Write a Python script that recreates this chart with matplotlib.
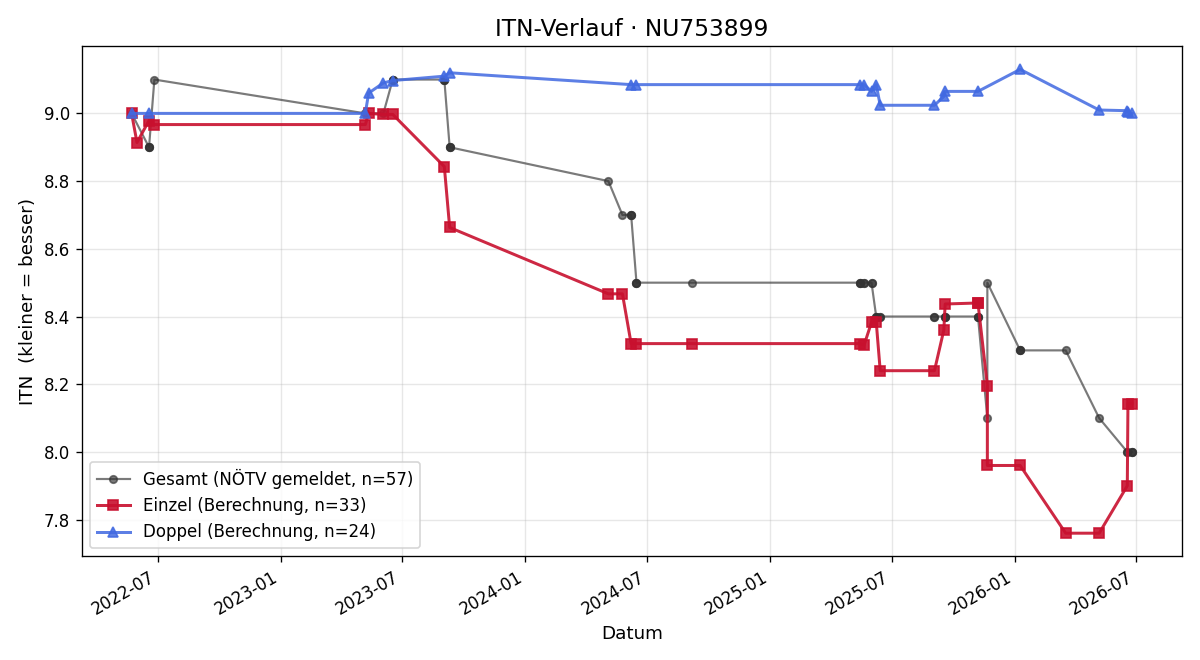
import pandas as pd
import matplotlib
matplotlib.use("Agg")
import matplotlib.pyplot as plt
import matplotlib.dates as mdates

# Gesamt (NÖTV gemeldet)
gesamt_dates = [
    "2022-05-23", "2022-06-18", "2022-06-18", "2022-06-18", "2022-06-26",
    "2023-05-07", "2023-06-03", "2023-06-17", "2023-06-17", "2023-06-17",
    "2023-09-02", "2023-09-02", "2023-09-02", "2023-09-10", "2023-09-10", "2023-09-10",
    "2024-05-04", "2024-05-25", "2024-06-07", "2024-06-07", "2024-06-07",
    "2024-06-15", "2024-06-15", "2024-06-15", "2024-09-06",
    "2025-05-15", "2025-05-15", "2025-05-15", "2025-05-21", "2025-05-21",
    "2025-06-01", "2025-06-01", "2025-06-08", "2025-06-08", "2025-06-08",
    "2025-06-14", "2025-06-14", "2025-09-03", "2025-09-03",
    "2025-09-19", "2025-09-19", "2025-09-19", "2025-11-07", "2025-11-07", "2025-11-07",
    "2025-11-21", "2025-11-21", "2026-01-09", "2026-01-09", "2026-01-09",
    "2026-03-18", "2026-05-07", "2026-06-18", "2026-06-18",
    "2026-06-25", "2026-06-25", "2026-06-25",
]
gesamt_vals = [
    9.0, 8.9, 8.9, 8.9, 9.1,
    9.0, 9.0, 9.1, 9.1, 9.1,
    9.1, 9.1, 9.1, 8.9, 8.9, 8.9,
    8.8, 8.7, 8.7, 8.7, 8.7,
    8.5, 8.5, 8.5, 8.5,
    8.5, 8.5, 8.5, 8.5, 8.5,
    8.5, 8.5, 8.4, 8.4, 8.4,
    8.4, 8.4, 8.4, 8.4,
    8.4, 8.4, 8.4, 8.4, 8.4, 8.4,
    8.1, 8.5, 8.3, 8.3, 8.3,
    8.3, 8.1, 8.0, 8.0,
    8.0, 8.0, 8.0,
]

# Einzel (Berechnung)
einzel_dates = [
    "2022-05-23", "2022-05-31", "2022-06-18", "2022-06-26",
    "2023-05-07", "2023-05-12", "2023-06-03", "2023-06-17",
    "2023-09-02", "2023-09-10", "2024-05-04", "2024-05-25",
    "2024-06-07", "2024-06-15", "2024-09-06", "2025-05-15",
    "2025-05-21", "2025-06-01", "2025-06-08", "2025-06-14",
    "2025-09-03", "2025-09-17", "2025-09-19", "2025-11-07", "2025-11-07",
    "2025-11-21", "2025-11-21", "2026-01-09", "2026-03-18",
    "2026-05-07", "2026-06-18", "2026-06-19", "2026-06-25",
]
einzel_vals = [
    9.0, 8.914, 8.979, 8.967,
    8.967, 9.0, 8.997, 8.997,
    8.843, 8.663, 8.467, 8.467,
    8.32, 8.32, 8.32, 8.32,
    8.316, 8.383, 8.385, 8.24,
    8.24, 8.36, 8.437, 8.44, 8.44,
    8.196, 7.96, 7.96, 7.76,
    7.76, 7.90, 8.143, 8.143,
]

# Doppel (Berechnung)
doppel_dates = [
    "2022-05-23", "2022-06-18", "2023-05-07", "2023-05-12",
    "2023-06-03", "2023-06-17", "2023-09-02", "2023-09-10",
    "2024-06-07", "2024-06-15", "2025-05-15", "2025-05-21",
    "2025-06-01", "2025-06-08", "2025-06-14", "2025-09-03",
    "2025-09-17", "2025-09-19", "2025-11-07", "2026-01-09",
    "2026-05-07", "2026-06-18", "2026-06-19", "2026-06-25",
]
doppel_vals = [
    9.0, 9.0, 9.0, 9.06,
    9.09, 9.097, 9.11, 9.12,
    9.085, 9.085, 9.085, 9.085,
    9.065, 9.085, 9.024, 9.024,
    9.05, 9.065, 9.065, 9.13,
    9.01, 9.008, 9.005, 9.0,
]

fig, ax = plt.subplots(figsize=(10, 5.5), dpi=120)

ax.plot(pd.to_datetime(gesamt_dates), gesamt_vals, marker="o", ms=4.5, lw=1.3,
        color="#333333", alpha=0.65, label=f"Gesamt (NÖTV gemeldet, n={len(gesamt_vals)})")
ax.plot(pd.to_datetime(einzel_dates), einzel_vals, marker="s", ms=5.5, lw=1.8,
        color="#c8102e", alpha=0.9, label=f"Einzel (Berechnung, n={len(einzel_vals)})")
ax.plot(pd.to_datetime(doppel_dates), doppel_vals, marker="^", ms=5.5, lw=1.8,
        color="#4169e1", alpha=0.85, label=f"Doppel (Berechnung, n={len(doppel_vals)})")

ax.set_title("ITN-Verlauf · NU753899", fontsize=14)
ax.set_xlabel("Datum", fontsize=11)
ax.set_ylabel("ITN  (kleiner = besser)", fontsize=11)
ax.grid(True, alpha=0.3)
ax.xaxis.set_major_locator(mdates.MonthLocator(bymonth=[1, 7]))
ax.xaxis.set_major_formatter(mdates.DateFormatter("%Y-%m"))
ax.legend(loc="lower left", fontsize=10)
fig.autofmt_xdate()

fig.subplots_adjust(left=0.068, right=0.985, top=0.93, bottom=0.157)
fig.savefig("out.png")
